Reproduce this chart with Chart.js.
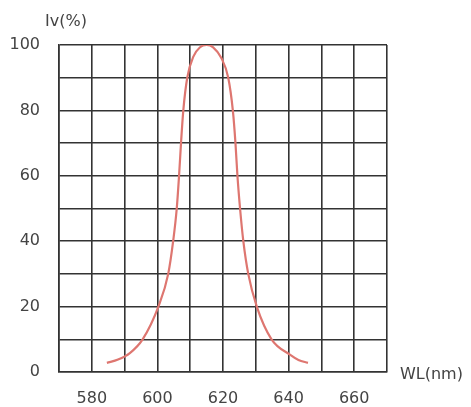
<!DOCTYPE html>
<html>
<head>
<meta charset="utf-8">
<script src="https://cdn.jsdelivr.net/npm/chart.js@4"></script>
<style>
  html, body { margin: 0; padding: 0; background: #fff; }
  #wrap { width: 471px; height: 407px; }
</style>
</head>
<body>
<div id="wrap"><canvas id="spectrum"></canvas></div>
<script>
// wavelength (nm) and relative intensity (%)
var wavelength = [584.6, 588, 591.6, 595.5, 600.3, 603.3, 604.8, 605.9, 606.6, 607.2, 607.9, 609.1, 611, 613, 615, 617, 619.5, 621.6, 623.0, 623.8, 624.4, 625.2, 626.2, 627.7, 630.3, 634.8, 640.4, 643, 645.9];
var intensity  = [2.8, 3.8, 5.8, 10, 20, 30, 40, 50, 60, 70, 80, 90, 96.5, 99.3, 100, 99.3, 96, 90, 80, 70, 60, 50, 40, 30, 20, 10, 5.3, 3.7, 2.8];

var xTicks = [580, 600, 620, 640, 660];
var yTicks = [0, 20, 40, 60, 80, 100];

var points = wavelength.map(function (w, i) { return { x: w, y: intensity[i] }; });

var font = { family: 'DejaVu Sans, sans-serif', size: 16 };
var textColor = '#444';
var gridColor = '#333';

// axis captions Iv(%) and WL(nm)
var captions = {
    id: 'captions',
    afterDraw: function (chart) {
        var ctx = chart.ctx;
        var area = chart.chartArea;
        ctx.save();
        ctx.fillStyle = textColor;
        ctx.font = '16px DejaVu Sans, sans-serif';
        ctx.textBaseline = 'middle';
        ctx.textAlign = 'left';
        ctx.fillText('Iv(%)', 45, 22);
        ctx.fillText('WL(nm)', area.right + 13, area.bottom + 3);
        ctx.restore();
    }
};

new Chart(document.getElementById('spectrum'), {
    type: 'scatter',
    data: {
        datasets: [{
            data: points,
            showLine: true,
            borderColor: '#de7670',
            borderWidth: 2.2,
            pointRadius: 0,
            cubicInterpolationMode: 'monotone',
            fill: false
        }]
    },
    options: {
        responsive: true,
        maintainAspectRatio: false,
        animation: false,
        layout: { padding: { top: 45, right: 84, left: 0, bottom: 0 } },
        plugins: { legend: { display: false }, tooltip: { enabled: false } },
        scales: {
            x: {
                type: 'linear',
                min: 570,
                max: 670,
                afterFit: function (axis) { axis.height = 35; },
                ticks: {
                    stepSize: 10,
                    autoSkip: false,
                    maxRotation: 0,
                    padding: 17,
                    color: textColor,
                    font: font,
                    callback: function (v) { return xTicks.indexOf(v) >= 0 ? String(v) : ''; }
                },
                grid: { color: gridColor, lineWidth: 1.6, drawTicks: false },
                border: { color: gridColor, width: 1.6 }
            },
            y: {
                min: 0,
                max: 100,
                afterFit: function (axis) { axis.width = 59; },
                ticks: {
                    stepSize: 10,
                    autoSkip: false,
                    padding: 19,
                    color: textColor,
                    font: font,
                    callback: function (v) { return yTicks.indexOf(v) >= 0 ? String(v) : ''; }
                },
                grid: { color: gridColor, lineWidth: 1.6, drawTicks: false },
                border: { color: gridColor, width: 1.6 }
            }
        }
    },
    plugins: [captions]
});
</script>
</body>
</html>
